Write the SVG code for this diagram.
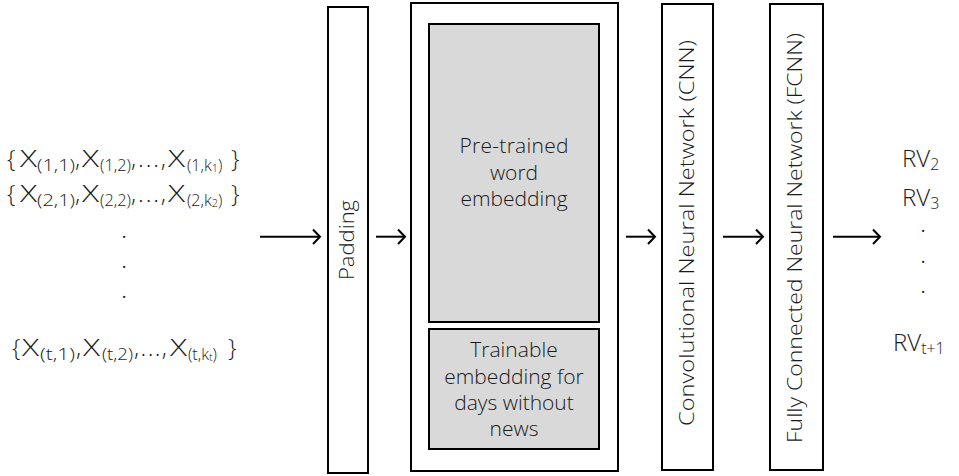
<svg xmlns="http://www.w3.org/2000/svg" width="959" height="476" viewBox="0 0 959 476">
<defs>
<style>
text{font-family:"Open Sans","Liberation Sans",sans-serif;fill:#1a1a1a;font-weight:300;}
.m{font-size:24px;}
.s{font-size:16px;}
.ss{font-size:11px;}
.dot{font-size:18px;font-weight:400;text-anchor:middle;}
.box{fill:#fff;stroke:#000;stroke-width:2;}
.gray{fill:#d9d9d9;stroke:#000;stroke-width:2;}
.lbl{font-size:21px;text-anchor:middle;}
.conn line,.conn polyline{stroke:#000;stroke-width:2;fill:none;}
</style>
</defs>
<rect width="959" height="476" fill="#fff"/>
<g id="inputs">
<text class="m" y="166.5"><tspan x="7">{</tspan><tspan x="20" textLength="17" lengthAdjust="spacingAndGlyphs">X</tspan><tspan class="s" x="37" dy="4" textLength="38" lengthAdjust="spacingAndGlyphs">(1,1)</tspan><tspan x="75" dy="-4">,</tspan><tspan x="82" textLength="17" lengthAdjust="spacingAndGlyphs">X</tspan><tspan class="s" x="100" dy="4" textLength="31" lengthAdjust="spacingAndGlyphs">(1,2)</tspan><tspan x="131" dy="-4" textLength="35" lengthAdjust="spacing">,...,</tspan><tspan x="168" textLength="17" lengthAdjust="spacingAndGlyphs">X</tspan><tspan class="s" x="187" dy="4">(1,k</tspan><tspan class="ss" dy="1">1</tspan><tspan class="s" dy="-1">)</tspan><tspan x="231" dy="-4">}</tspan></text>
<text class="m" y="202"><tspan x="7">{</tspan><tspan x="20" textLength="17" lengthAdjust="spacingAndGlyphs">X</tspan><tspan class="s" x="37" dy="4" textLength="38" lengthAdjust="spacingAndGlyphs">(2,1)</tspan><tspan x="75" dy="-4">,</tspan><tspan x="82" textLength="17" lengthAdjust="spacingAndGlyphs">X</tspan><tspan class="s" x="100" dy="4" textLength="31" lengthAdjust="spacingAndGlyphs">(2,2)</tspan><tspan x="131" dy="-4" textLength="35" lengthAdjust="spacing">,...,</tspan><tspan x="168" textLength="17" lengthAdjust="spacingAndGlyphs">X</tspan><tspan class="s" x="187" dy="4">(2,k</tspan><tspan class="ss" dy="1">2</tspan><tspan class="s" dy="-1">)</tspan><tspan x="231" dy="-4">}</tspan></text>
<text class="dot" x="124" y="238">.</text>
<text class="dot" x="124" y="268">.</text>
<text class="dot" x="124" y="298">.</text>
<text class="m" y="355.5"><tspan x="12">{</tspan><tspan x="22" textLength="17" lengthAdjust="spacingAndGlyphs">X</tspan><tspan class="s" x="40" dy="4" textLength="35" lengthAdjust="spacingAndGlyphs">(t,1)</tspan><tspan x="76" dy="-4">,</tspan><tspan x="83" textLength="17" lengthAdjust="spacingAndGlyphs">X</tspan><tspan class="s" x="102" dy="4" textLength="31" lengthAdjust="spacingAndGlyphs">(t,2)</tspan><tspan x="134" dy="-4" textLength="33" lengthAdjust="spacing">,...,</tspan><tspan x="170" textLength="17" lengthAdjust="spacingAndGlyphs">X</tspan><tspan class="s" x="188" dy="4">(t,k</tspan><tspan class="ss" dy="1">t</tspan><tspan class="s" dy="-1">)</tspan><tspan x="228" dy="-4">}</tspan></text>
</g>
<g id="padding">
<rect class="box" x="328" y="7" width="40" height="466"/>
<text class="lbl" transform="translate(354,240) rotate(-90)" textLength="80" lengthAdjust="spacingAndGlyphs">Padding</text>
</g>
<g id="embedding">
<rect class="box" x="411" y="3" width="207" height="468"/>
<g id="pretrained">
<rect class="gray" x="429" y="24" width="170" height="298"/>
<text class="lbl" x="514" y="153" textLength="109" lengthAdjust="spacing">Pre-trained</text>
<text class="lbl" x="514" y="180">word</text>
<text class="lbl" x="514" y="206">embedding</text>
</g>
<g id="trainable">
<rect class="gray" x="429" y="329" width="170" height="120"/>
<text class="lbl" x="514" y="357">Trainable</text>
<text class="lbl" x="514" y="384">embedding for</text>
<text class="lbl" x="514" y="410">days without</text>
<text class="lbl" x="514" y="436">news</text>
</g>
</g>
<g id="cnn">
<rect class="box" x="662" y="4" width="51" height="466"/>
<text class="lbl" transform="translate(694,233) rotate(-90)" textLength="386" lengthAdjust="spacingAndGlyphs">Convolutional Neural Network (CNN)</text>
</g>
<g id="fcnn">
<rect class="box" x="770" y="4" width="53" height="466"/>
<text class="lbl" transform="translate(802,238) rotate(-90)" textLength="410" lengthAdjust="spacingAndGlyphs">Fully Connected Neural Network (FCNN)</text>
</g>
<g id="outputs">
<text class="m" x="902" y="166.5">RV<tspan class="s" dy="3">2</tspan></text>
<text class="m" x="902" y="206">RV<tspan class="s" dy="3">3</tspan></text>
<text class="dot" x="923" y="232">.</text>
<text class="dot" x="923" y="263">.</text>
<text class="dot" x="923" y="293">.</text>
<text class="m" x="893" y="351">RV<tspan class="s" dy="3">t+1</tspan></text>
</g>
<g id="connectors" class="conn">
<line x1="260" y1="236.7" x2="320" y2="236.7"/><polyline points="313,229.5 320,236.7 313,244"/>
<line x1="376" y1="236.7" x2="405" y2="236.7"/><polyline points="398,229.5 405,236.7 398,244"/>
<line x1="626" y1="236.7" x2="655" y2="236.7"/><polyline points="648,229.5 655,236.7 648,244"/>
<line x1="723" y1="236.7" x2="763" y2="236.7"/><polyline points="756,229.5 763,236.7 756,244"/>
<line x1="833" y1="236.7" x2="880" y2="236.7"/><polyline points="873,229.5 880,236.7 873,244"/>
</g>
</svg>
